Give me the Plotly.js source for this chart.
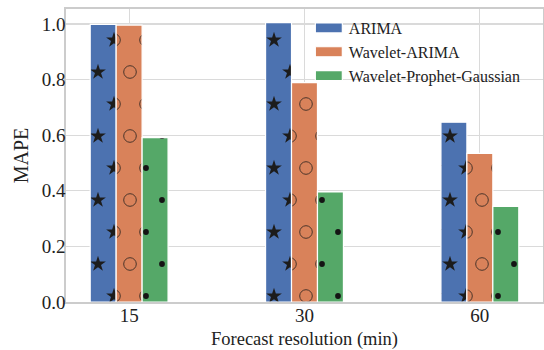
<!DOCTYPE html>
<html>
<head>
<meta charset="utf-8">
<script src="https://cdn.plot.ly/plotly-3.0.1.min.js"></script>
<style>
  html, body { margin: 0; padding: 0; background: #ffffff; }
  #chart { width: 544px; height: 350px; }
</style>
</head>
<body>
<div id="chart"></div>
<script>
// ---- data ----
const categories = ["15", "30", "60"];
const seriesNames = ["ARIMA", "Wavelet-ARIMA", "Wavelet-Prophet-Gaussian"];
const arimaValues = [0.999, 1.005, 0.647];
const waveletArimaValues = [0.996, 0.789, 0.535];
const waveletProphetGaussianValues = [0.591, 0.396, 0.344];
const yTickValues = [0.0, 0.2, 0.4, 0.6, 0.8, 1.0];
const xAxisLabel = "Forecast resolution (min)";
const yAxisLabel = "MAPE";

// ---- styles ----
const colors = ["#4c72b0", "#d9825a", "#55a868"];
const hatchKinds = ["star", "circle", "dot"];
const FONT = "Liberation Serif";
const allValues = [arimaValues, waveletArimaValues, waveletProphetGaussianValues];

const traces = allValues.map((vals, i) => ({
  type: "bar",
  name: seriesNames[i],
  x: categories,
  y: vals,
  marker: { color: colors[i], line: { color: "#ffffff", width: 1.2 } },
  hoverinfo: "skip"
}));

const layout = {
  width: 544,
  height: 350,
  margin: { l: 66, r: 1, t: 9, b: 48 },
  paper_bgcolor: "#ffffff",
  plot_bgcolor: "#ffffff",
  barmode: "group",
  bargap: 0.556,
  bargroupgap: 0,
  font: { family: FONT, color: "#222222", size: 18 },
  showlegend: true,
  legend: {
    x: 0.964, xanchor: "right",
    y: 0.993, yanchor: "top",
    bgcolor: "rgba(0,0,0,0)",
    borderwidth: 0,
    itemwidth: 30,
    font: { family: FONT, size: 16, color: "#222222" },
    tracegroupgap: 0
  },
  // white legend frame: hides gridlines but stays under the bars
  shapes: [{
    type: "rect", xref: "paper", yref: "paper",
    x0: 0.505, x1: 0.9895, y0: 0.758, y1: 0.9795,
    fillcolor: "#ffffff", line: { width: 0 }, layer: "between"
  }],
  xaxis: {
    type: "category",
    range: [-0.36, 2.36],
    showgrid: true,
    gridcolor: "#dadada",
    gridwidth: 1.2,
    showline: true,
    linecolor: "#cccccc",
    linewidth: 1.6,
    mirror: true,
    ticks: "",
    ticklabelstandoff: -4,
    tickfont: { family: FONT, size: 19, color: "#222222" },
    title: { text: xAxisLabel, font: { family: FONT, size: 18.5, color: "#222222" }, standoff: 6 },
    automargin: false,
    fixedrange: true
  },
  yaxis: {
    range: [0, 1.054],
    tickvals: yTickValues,
    tickformat: ".1f",
    showgrid: true,
    gridcolor: "#dadada",
    gridwidth: 1.2,
    zeroline: false,
    showline: true,
    linecolor: "#cccccc",
    linewidth: 1.6,
    mirror: true,
    ticks: "",
    ticklabelstandoff: -5,
    tickfont: { family: FONT, size: 19, color: "#222222" },
    title: { text: yAxisLabel, font: { family: FONT, size: 20, color: "#222222" }, standoff: 8 },
    automargin: false,
    fixedrange: true
  }
};

const NS = "http://www.w3.org/2000/svg";
function starPath(cx, cy, R) {
  const r = R * 0.382;
  let d = "";
  for (let i = 0; i < 10; i++) {
    const a = -Math.PI / 2 + i * Math.PI / 5;
    const rad = i % 2 ? r : R;
    d += (i ? "L" : "M") + (cx + rad * Math.cos(a)).toFixed(2) + "," + (cy + rad * Math.sin(a)).toFixed(2);
  }
  return d + "Z";
}
function makePattern(id, color, kind, ox, oy) {
  const W = 32, H = 64;
  const p = document.createElementNS(NS, "pattern");
  p.setAttribute("id", id);
  p.setAttribute("patternUnits", "userSpaceOnUse");
  p.setAttribute("width", W);
  p.setAttribute("height", H);
  p.setAttribute("x", ox);
  p.setAttribute("y", oy);
  const bg = document.createElementNS(NS, "rect");
  bg.setAttribute("width", W); bg.setAttribute("height", H);
  bg.setAttribute("fill", color);
  p.appendChild(bg);
  const pts = [[0, 0], [W, 0], [0, H], [W, H], [W / 2, H / 2]];
  pts.forEach(([cx, cy]) => {
    let el;
    if (kind === "star") {
      el = document.createElementNS(NS, "path");
      el.setAttribute("d", starPath(cx, cy, 8.3));
      el.setAttribute("fill", "#1c1c1c");
    } else if (kind === "circle") {
      el = document.createElementNS(NS, "circle");
      el.setAttribute("cx", cx); el.setAttribute("cy", cy);
      el.setAttribute("r", 6.3);
      el.setAttribute("fill", "none");
      el.setAttribute("stroke", "#3a2a22");
      el.setAttribute("stroke-width", 0.9);
    } else {
      el = document.createElementNS(NS, "circle");
      el.setAttribute("cx", cx); el.setAttribute("cy", cy);
      el.setAttribute("r", 2.9);
      el.setAttribute("fill", "#141414");
    }
    p.appendChild(el);
  });
  return p;
}

const gd = document.getElementById("chart");
Plotly.newPlot(gd, traces, layout, { staticPlot: true, displayModeBar: false }).then(() => {
  const sz = gd._fullLayout._size;
  const svg = gd.querySelector("svg.main-svg");
  let defs = svg.querySelector("defs");
  if (!defs) { defs = document.createElementNS(NS, "defs"); svg.insertBefore(defs, svg.firstChild); }
  // hatch lattice anchored in page pixels (like a figure-anchored hatch)
  const ox = 114 - sz.l, oy = 232 - sz.t;
  const traceGroups = gd.querySelectorAll(".barlayer .trace");
  traceGroups.forEach((g, i) => {
    const id = "hatch" + i;
    defs.appendChild(makePattern(id, colors[i], hatchKinds[i], ox, oy));
    g.querySelectorAll("path").forEach(path => { path.style.fill = "url(#" + id + ")"; });
  });
  gd.querySelectorAll(".legend .legendpoints path").forEach(p => {
    p.setAttribute("d", "M13.5,5H-13.5V-5H13.5Z");
  });
});
</script>
</body>
</html>
